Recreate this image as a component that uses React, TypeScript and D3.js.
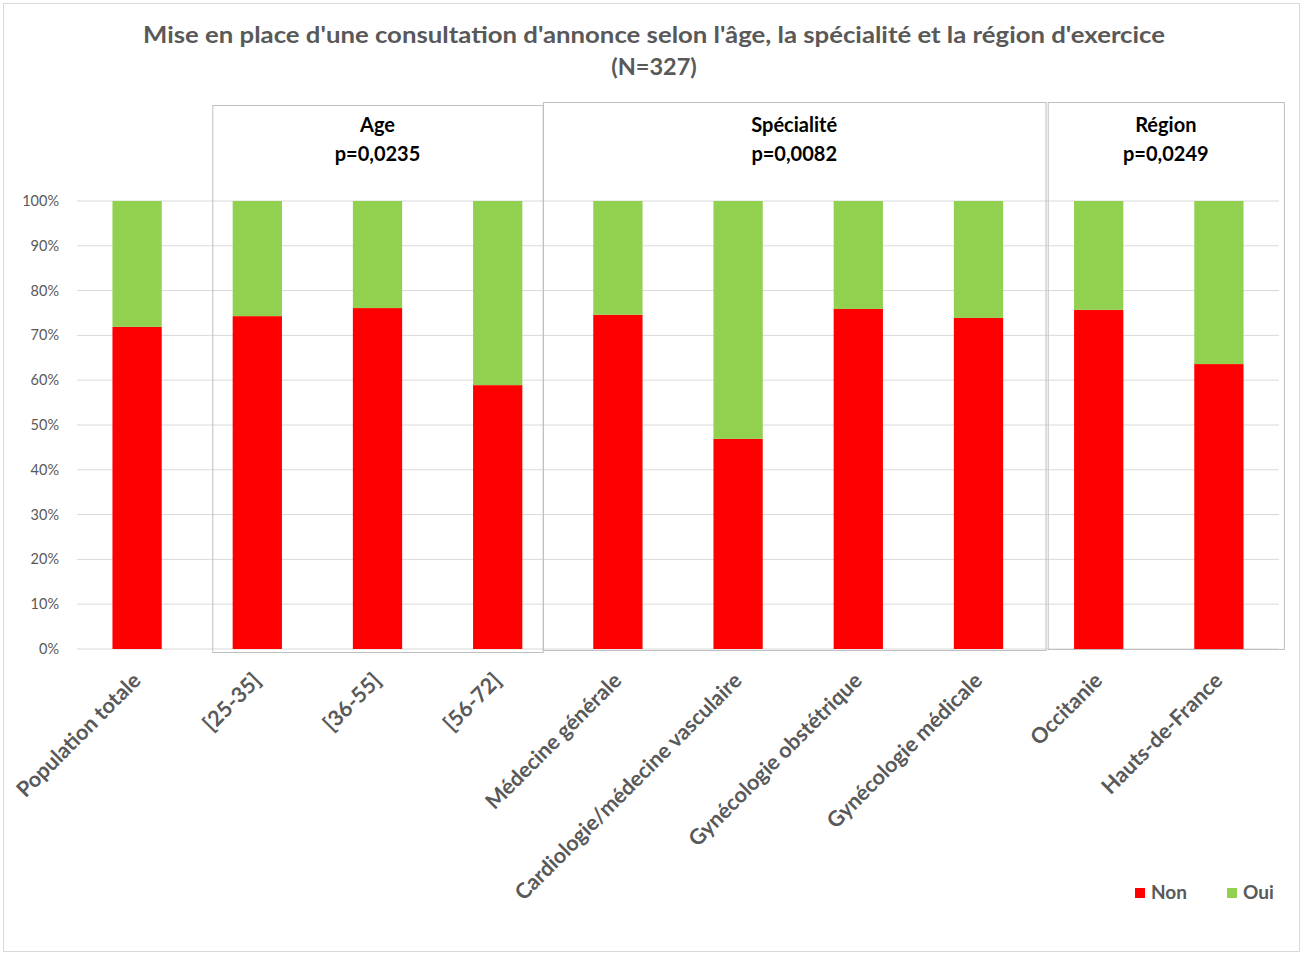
import React from "react";
import * as d3 from "d3";

const categories = [
  "Population totale",
  "[25-35]",
  "[36-55]",
  "[56-72]",
  "Médecine générale",
  "Cardiologie/médecine vasculaire",
  "Gynécologie obstétrique",
  "Gynécologie médicale",
  "Occitanie",
  "Hauts-de-France",
];
const nonValues = [71.9, 74.3, 76.1, 58.9, 74.6, 46.9, 75.9, 73.9, 75.7, 63.6];
const ouiValues = nonValues.map((v) => 100 - v);
const yTicks = [0, 10, 20, 30, 40, 50, 60, 70, 80, 90, 100];
const groupTitles = ["Age", "Spécialité", "Région"];
const groupPValues = ["p=0,0235", "p=0,0082", "p=0,0249"];
const groupFirst = [1, 4, 8];
const groupLast = [3, 7, 9];
const seriesNames = ["Non", "Oui"];

const W = 1304;
const H = 955;
const RED = "#ff0000";
const GREEN = "#92d050";
const TXT = "#595959";
const FONT = "Lato, 'Open Sans', sans-serif";

// layout of the group boxes (offsets from bar centers, top y)
const boxLayout = [
  { left: -45, right: 45, top: 105, bottom: 652 },
  { left: -75, right: 67, top: 102, bottom: 650 },
  { left: -51, right: 65, top: 102, bottom: 649 },
];

export default function App() {
  const x = d3
    .scaleBand<string>()
    .domain(categories)
    .range([77, 1279])
    .paddingInner(0.59)
    .paddingOuter(0.295);
  const y = d3.scaleLinear().domain([0, 100]).range([649, 201]);
  const cx = (i: number) => (x(categories[i]) as number) + x.bandwidth() / 2;

  const stack = d3
    .stack<any>()
    .keys(["non", "oui"])(categories.map((c, i) => ({ c, non: nonValues[i], oui: ouiValues[i] })));

  return (
    <svg
      width={W}
      height={H}
      style={{ position: "absolute", left: 0, top: 0, background: "#fff" }}
      fontFamily={FONT}
    >
      <rect x={3.5} y={3.5} width={1296} height={948} fill="#fff" stroke="#d9d9d9" />
      <text
        x={654}
        y={43}
        textAnchor="middle"
        fontSize={23.5}
        fontWeight="bold"
        fill={TXT}
        textLength={1022}
        lengthAdjust="spacingAndGlyphs"
      >
        Mise en place d'une consultation d'annonce selon l'âge, la spécialité et la région d'exercice
      </text>
      <text x={654} y={75} textAnchor="middle" fontSize={23.5} fontWeight="bold" fill={TXT}>
        (N=327)
      </text>

      {yTicks.map((t) => (
        <g key={t}>
          <line x1={77} x2={1279} y1={y(t)} y2={y(t)} stroke="#d9d9d9" strokeWidth={1} />
          <text x={59} y={y(t)} dy="0.35em" textAnchor="end" fontSize={14.5} fill={TXT}>
            {t}%
          </text>
        </g>
      ))}

      {stack.map((s, si) =>
        s.map((d, i) => (
          <rect
            key={si + "-" + i}
            x={x(categories[i])}
            width={x.bandwidth()}
            y={y(d[1])}
            height={y(d[0]) - y(d[1])}
            fill={si === 0 ? RED : GREEN}
          />
        ))
      )}

      {groupTitles.map((g, gi) => {
        const b = boxLayout[gi];
        const l = cx(groupFirst[gi]) + b.left;
        const r = cx(groupLast[gi]) + b.right;
        return (
          <g key={g}>
            <rect x={l + 0.5} y={b.top + 0.5} width={r - l} height={b.bottom - b.top} fill="none" stroke="#bfbfbf" />
            <text x={(l + r) / 2} y={132} textAnchor="middle" fontSize={20} fontWeight="bold" fill="#000">
              {g}
            </text>
            <text x={(l + r) / 2} y={161} textAnchor="middle" fontSize={20} fontWeight="bold" fill="#000">
              {groupPValues[gi]}
            </text>
          </g>
        );
      })}

      {categories.map((c, i) => (
        <text
          key={c}
          transform={`translate(${cx(i) + 5},${682}) rotate(-45)`}
          textAnchor="end"
          fontSize={21.5}
          fontWeight="bold"
          fill={TXT}
        >
          {c}
        </text>
      ))}

      {seriesNames.map((n, i) => (
        <g key={n} transform={`translate(${1135 + i * 92},888)`}>
          <rect width={10} height={10} fill={i === 0 ? RED : GREEN} />
          <text x={16} y={10.5} fontSize={19} fontWeight="bold" fill={TXT}>
            {n}
          </text>
        </g>
      ))}
    </svg>
  );
}
